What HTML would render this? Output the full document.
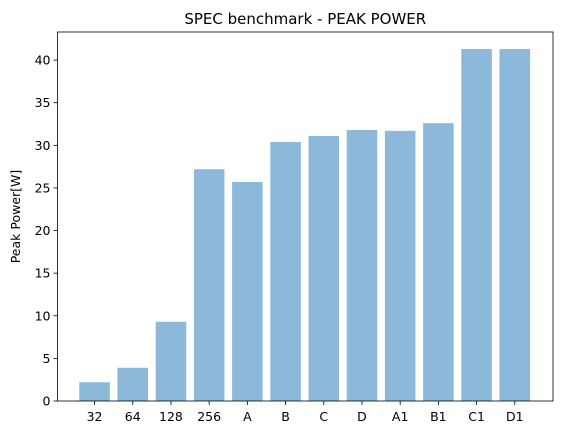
<!DOCTYPE html>
<html><head><meta charset="utf-8"><style>
body{margin:0;background:#fff;font-family:"Liberation Sans","DejaVu Sans",sans-serif}
text{font-family:"DejaVu Sans","Liberation Sans",sans-serif}
</style></head><body>
<svg id="chart" width="562" height="435" xmlns="http://www.w3.org/2000/svg"></svg>
<script>
const categories=["32","64","128","256","A","B","C","D","A1","B1","C1","D1"];
const values=[2.2,3.9,9.3,27.2,25.7,30.4,31.1,31.8,31.7,32.6,41.3,41.3];
const yTicks=[0,5,10,15,20,25,30,35,40];
const L=57.5,R=553,T=32,B=401;
const xMin=-0.97,xMax=12.0,yMin=0,yMax=43.3;
const xs=v=>L+(v-xMin)/(xMax-xMin)*(R-L);
const ys=v=>B-(v-yMin)/(yMax-yMin)*(B-T);
const svg=document.getElementById('chart');
const NS="http://www.w3.org/2000/svg";
function mk(t,a){const e=document.createElementNS(NS,t);for(const k in a)e.setAttribute(k,a[k]);svg.appendChild(e);return e;}
const bw=(xs(0.8)-xs(0));
values.forEach((v,i)=>{
  const r=mk('rect',{x:xs(i)-bw/2,y:ys(v),width:bw,height:ys(0)-ys(v),fill:'#8cb9d9'});
  
  
  const tk=mk('line',{x1:xs(i),x2:xs(i),y1:B,y2:B+4,stroke:'#000','stroke-width':0.8});
  
  
  const t=mk('text',{x:xs(i),y:B+20,'text-anchor':'middle','font-size':12.5});
  t.textContent=categories[i];
  
  
});
yTicks.forEach(v=>{
  const tk=mk('line',{x1:L-4,x2:L,y1:ys(v),y2:ys(v),stroke:'#000','stroke-width':0.8});
  
  
  const t=mk('text',{x:L-7,y:ys(v)+4.5,'text-anchor':'end','font-size':12.5});
  t.textContent=v;
  
  
});
const f=mk('rect',{x:L,y:T,width:R-L,height:B-T,fill:'none',stroke:'#000','stroke-width':0.8});


const ti=mk('text',{x:(L+R)/2,y:T-8,'text-anchor':'middle','font-size':15});
ti.textContent='SPEC benchmark - PEAK POWER';


const yl=mk('text',{x:20,y:(T+B)/2,'text-anchor':'middle','font-size':12.5,transform:'rotate(-90 20 '+((T+B)/2)+')'});
yl.textContent='Peak Power[W]';


</script>
</body></html>
